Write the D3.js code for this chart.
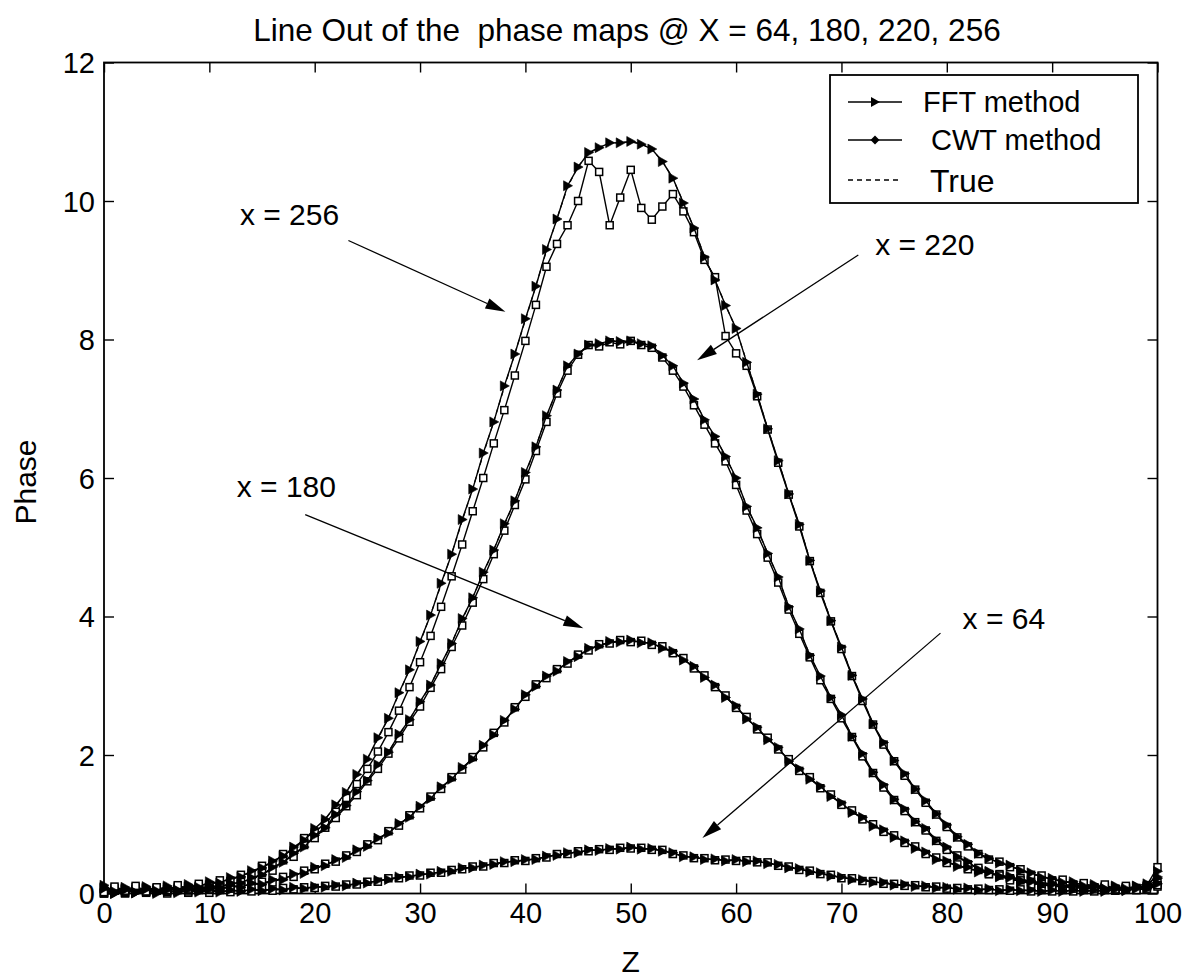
<!DOCTYPE html>
<html><head><meta charset="utf-8">
<script src="https://cdn.jsdelivr.net/npm/d3@7"></script>
<style>
body{margin:0;background:#fff}
svg{display:block}
text{font-family:"Liberation Sans",Arial,Helvetica,sans-serif;fill:#000;white-space:pre}
</style>
</head><body>
<svg id="chart" width="1202" height="979"></svg>
<script>
// ---------- data ----------
const zSamples = [0,1,2,3,4,5,6,7,8,9,10,11,12,13,14,15,16,17,18,19,20,21,22,23,24,25,26,27,28,29,30,31,32,33,34,35,36,37,38,39,40,41,42,43,44,45,46,47,48,49,50,51,52,53,54,55,56,57,58,59,60,61,62,63,64,65,66,67,68,69,70,71,72,73,74,75,76,77,78,79,80,81,82,83,84,85,86,87,88,89,90,91,92,93,94,95,96,97,98,99,100];
const xTicks = [0,10,20,30,40,50,60,70,80,90,100];
const yTicks = [0,2,4,6,8,10,12];
const seriesNames = ["FFT method", " CWT method", "True"];

const true256 = [0.05,0.05,0.05,0.06,0.06,0.07,0.08,0.09,0.10,0.12,
 0.14,0.17,0.21,0.25,0.31,0.38,0.45,0.55,0.65,0.78,
 0.92,1.08,1.26,1.47,1.70,1.95,2.23,2.54,2.88,3.24,
 3.62,4.03,4.46,4.91,5.38,5.85,6.34,6.82,7.31,7.80,
 8.28,8.78,9.28,9.75,10.20,10.50,10.68,10.78,10.83,10.85,
 10.85,10.83,10.74,10.58,10.32,9.98,9.60,9.20,8.85,8.50,
 8.15,7.68,7.20,6.72,6.24,5.78,5.32,4.82,4.36,3.95,
 3.55,3.16,2.80,2.46,2.17,1.93,1.72,1.52,1.33,1.16,
 0.98,0.83,0.70,0.59,0.50,0.45,0.40,0.34,0.29,0.25,
 0.21,0.18,0.15,0.13,0.11,0.10,0.09,0.08,0.08,0.09,
 0.10];
const fft256 = [0.12,0.03,0.09,0.01,0.10,0.04,0.11,0.05,0.13,0.09,
 0.17,0.15,0.23,0.24,0.33,0.37,0.47,0.54,0.67,0.77,
 0.94,1.07,1.28,1.46,1.72,1.94,2.25,2.53,2.90,3.23,
 3.64,4.02,4.48,4.90,5.40,5.84,6.36,6.81,7.33,7.79,
 8.30,8.77,9.30,9.74,10.22,10.49,10.70,10.77,10.84,10.84,
 10.86,10.82,10.75,10.57,10.33,9.97,9.61,9.19,8.86,8.49,
 8.16,7.67,7.21,6.71,6.25,5.77,5.33,4.81,4.37,3.94,
 3.56,3.15,2.81,2.45,2.18,1.92,1.73,1.51,1.34,1.15,
 0.99,0.82,0.71,0.58,0.51,0.44,0.41,0.33,0.30,0.23,
 0.22,0.16,0.17,0.11,0.13,0.07,0.11,0.05,0.10,0.07,
 0.32];
const cwt256 = [0.02,0.10,0.04,0.11,0.03,0.09,0.05,0.12,0.07,0.14,
 0.11,0.19,0.18,0.27,0.29,0.40,0.43,0.57,0.62,0.80,
 0.88,1.02,1.18,1.38,1.58,1.80,2.05,2.33,2.64,2.98,
 3.34,3.72,4.14,4.58,5.04,5.52,6.00,6.50,6.98,7.48,
 7.98,8.50,9.05,9.38,9.65,10.00,10.58,10.42,9.65,10.05,
 10.45,9.90,9.73,9.92,10.10,9.85,9.55,9.15,8.90,8.05,
 7.80,7.62,7.18,6.70,6.22,5.76,5.30,4.80,4.34,3.93,
 3.53,3.14,2.78,2.44,2.15,1.91,1.70,1.50,1.31,1.14,
 0.96,0.81,0.68,0.57,0.49,0.46,0.38,0.35,0.27,0.26,
 0.19,0.20,0.13,0.15,0.09,0.13,0.06,0.11,0.05,0.12,
 0.38];

const true220 = [0.03,0.03,0.03,0.04,0.04,0.05,0.05,0.06,0.07,0.08,
 0.09,0.10,0.13,0.16,0.21,0.28,0.36,0.46,0.56,0.68,
 0.82,0.96,1.12,1.28,1.45,1.64,1.84,2.05,2.28,2.52,
 2.75,3.02,3.30,3.62,3.95,4.28,4.62,4.97,5.32,5.68,
 6.06,6.46,6.88,7.28,7.60,7.80,7.90,7.95,7.97,7.98,
 7.97,7.95,7.90,7.78,7.60,7.38,7.12,6.85,6.58,6.32,
 5.98,5.60,5.26,4.92,4.55,4.15,3.80,3.45,3.12,2.84,
 2.56,2.28,2.00,1.76,1.55,1.37,1.20,1.05,0.92,0.78,
 0.65,0.54,0.44,0.36,0.30,0.25,0.21,0.18,0.15,0.13,
 0.11,0.10,0.09,0.08,0.08,0.07,0.07,0.07,0.08,0.10,
 0.15];
const fft220 = [0.09,0.01,0.07,0.02,0.08,0.03,0.09,0.04,0.10,0.06,
 0.12,0.09,0.15,0.15,0.23,0.27,0.38,0.45,0.58,0.67,
 0.84,0.95,1.14,1.27,1.47,1.63,1.86,2.04,2.30,2.51,
 2.77,3.01,3.32,3.61,3.97,4.27,4.64,4.96,5.34,5.67,
 6.08,6.45,6.90,7.27,7.62,7.79,7.92,7.94,7.98,7.97,
 7.98,7.94,7.91,7.77,7.62,7.37,7.14,6.84,6.60,6.31,
 6.00,5.59,5.28,4.91,4.57,4.14,3.82,3.44,3.14,2.83,
 2.58,2.27,2.02,1.75,1.57,1.36,1.22,1.04,0.94,0.77,
 0.67,0.53,0.46,0.35,0.32,0.24,0.23,0.17,0.17,0.12,
 0.13,0.09,0.11,0.06,0.10,0.05,0.09,0.05,0.10,0.08,
 0.22];
const cwt220 = [0.01,0.08,0.02,0.09,0.03,0.08,0.04,0.10,0.05,0.11,
 0.07,0.13,0.11,0.19,0.18,0.30,0.33,0.48,0.53,0.70,
 0.80,0.95,1.09,1.26,1.42,1.62,1.80,2.02,2.24,2.48,
 2.70,2.97,3.24,3.56,3.87,4.20,4.54,4.90,5.24,5.61,
 5.98,6.39,6.81,7.22,7.55,7.78,7.92,7.90,7.96,7.93,
 7.98,7.92,7.88,7.74,7.55,7.32,7.05,6.77,6.50,6.24,
 5.90,5.53,5.19,4.85,4.49,4.10,3.75,3.41,3.08,2.81,
 2.53,2.26,1.98,1.74,1.53,1.35,1.19,1.03,0.91,0.76,
 0.63,0.55,0.42,0.37,0.28,0.26,0.19,0.19,0.13,0.14,
 0.09,0.11,0.07,0.09,0.06,0.08,0.05,0.08,0.06,0.11,
 0.12];

const true180 = [0.02,0.02,0.02,0.02,0.03,0.03,0.03,0.04,0.04,0.05,
 0.06,0.07,0.08,0.10,0.12,0.14,0.17,0.21,0.25,0.30,
 0.36,0.41,0.47,0.53,0.61,0.69,0.78,0.88,0.99,1.11,
 1.24,1.38,1.52,1.66,1.80,1.95,2.12,2.30,2.48,2.67,
 2.85,3.00,3.12,3.22,3.33,3.43,3.52,3.58,3.62,3.64,
 3.64,3.63,3.60,3.55,3.48,3.38,3.26,3.13,2.99,2.84,
 2.69,2.53,2.38,2.23,2.09,1.92,1.78,1.66,1.53,1.41,
 1.29,1.18,1.08,0.98,0.90,0.82,0.74,0.66,0.58,0.50,
 0.45,0.40,0.36,0.32,0.29,0.26,0.23,0.20,0.17,0.15,
 0.13,0.12,0.11,0.10,0.09,0.08,0.08,0.08,0.09,0.12,
 0.20];
const fft180 = [0.08,0.00,0.06,0.01,0.07,0.02,0.08,0.03,0.09,0.04,
 0.10,0.06,0.12,0.09,0.15,0.13,0.20,0.20,0.28,0.29,
 0.38,0.40,0.49,0.52,0.63,0.68,0.80,0.87,1.01,1.10,
 1.26,1.37,1.54,1.65,1.82,1.94,2.14,2.29,2.50,2.66,
 2.87,2.99,3.14,3.21,3.35,3.42,3.54,3.57,3.64,3.63,
 3.66,3.62,3.62,3.54,3.50,3.37,3.28,3.12,3.01,2.83,
 2.71,2.52,2.40,2.22,2.11,1.91,1.80,1.65,1.55,1.40,
 1.31,1.17,1.10,0.97,0.92,0.81,0.76,0.65,0.60,0.49,
 0.47,0.39,0.38,0.31,0.31,0.25,0.25,0.19,0.19,0.14,
 0.15,0.11,0.13,0.09,0.11,0.07,0.10,0.07,0.11,0.14,
 0.24];
const cwt180 = [0.00,0.05,0.01,0.06,0.02,0.07,0.02,0.08,0.03,0.09,
 0.05,0.10,0.07,0.13,0.11,0.17,0.16,0.24,0.24,0.33,
 0.35,0.43,0.46,0.55,0.60,0.71,0.77,0.90,0.98,1.13,
 1.23,1.40,1.51,1.68,1.79,1.97,2.11,2.32,2.47,2.69,
 2.84,3.02,3.11,3.24,3.32,3.45,3.51,3.60,3.61,3.66,
 3.63,3.65,3.59,3.57,3.47,3.40,3.25,3.15,2.98,2.86,
 2.68,2.55,2.37,2.25,2.08,1.94,1.77,1.68,1.52,1.43,
 1.28,1.20,1.07,1.00,0.89,0.84,0.73,0.68,0.57,0.52,
 0.44,0.42,0.35,0.34,0.28,0.28,0.22,0.22,0.16,0.17,
 0.12,0.14,0.10,0.12,0.08,0.10,0.07,0.09,0.08,0.10,
 0.16];

const true64 = [0.02,0.02,0.02,0.02,0.02,0.02,0.02,0.02,0.02,0.03,
 0.03,0.03,0.03,0.04,0.04,0.05,0.05,0.06,0.07,0.08,
 0.09,0.10,0.11,0.12,0.14,0.16,0.18,0.21,0.23,0.25,
 0.27,0.29,0.31,0.33,0.36,0.38,0.40,0.43,0.45,0.47,
 0.48,0.50,0.53,0.56,0.58,0.60,0.62,0.63,0.64,0.65,
 0.66,0.65,0.64,0.62,0.58,0.54,0.52,0.50,0.49,0.48,
 0.48,0.47,0.46,0.44,0.41,0.38,0.35,0.32,0.29,0.26,
 0.23,0.21,0.19,0.17,0.15,0.13,0.12,0.11,0.10,0.09,
 0.08,0.07,0.07,0.06,0.06,0.05,0.05,0.05,0.04,0.04,
 0.04,0.04,0.04,0.04,0.04,0.04,0.05,0.05,0.06,0.08,
 0.12];
const fft64 = [0.07,0.00,0.05,0.01,0.06,0.00,0.05,0.01,0.06,0.02,
 0.06,0.02,0.05,0.03,0.06,0.04,0.07,0.05,0.09,0.07,
 0.10,0.09,0.12,0.11,0.15,0.15,0.19,0.20,0.24,0.24,
 0.28,0.28,0.32,0.32,0.37,0.37,0.41,0.42,0.46,0.46,
 0.49,0.49,0.54,0.55,0.59,0.59,0.63,0.62,0.65,0.64,
 0.67,0.64,0.65,0.61,0.59,0.53,0.53,0.49,0.50,0.47,
 0.49,0.46,0.47,0.43,0.42,0.37,0.36,0.31,0.30,0.25,
 0.24,0.20,0.20,0.16,0.16,0.12,0.13,0.10,0.11,0.08,
 0.09,0.06,0.08,0.05,0.07,0.04,0.06,0.04,0.05,0.03,
 0.05,0.03,0.05,0.03,0.05,0.03,0.06,0.04,0.07,0.09,
 0.14];
const cwt64 = [0.00,0.04,0.00,0.05,0.01,0.04,0.00,0.05,0.01,0.05,
 0.01,0.05,0.02,0.06,0.03,0.07,0.04,0.08,0.06,0.09,
 0.08,0.11,0.10,0.13,0.13,0.17,0.17,0.22,0.22,0.26,
 0.26,0.30,0.30,0.34,0.35,0.39,0.39,0.44,0.44,0.48,
 0.47,0.51,0.52,0.57,0.57,0.61,0.61,0.64,0.63,0.66,
 0.65,0.66,0.63,0.63,0.57,0.55,0.51,0.51,0.48,0.49,
 0.47,0.48,0.45,0.45,0.40,0.39,0.34,0.33,0.28,0.27,
 0.22,0.22,0.18,0.18,0.14,0.14,0.11,0.12,0.09,0.10,
 0.07,0.08,0.06,0.07,0.05,0.06,0.04,0.06,0.03,0.05,
 0.03,0.05,0.03,0.05,0.03,0.05,0.04,0.06,0.05,0.07,
 0.10];

const trueSeries = [true64, true180, true220, true256];
const fftSeries  = [fft64, fft180, fft220, fft256];
const cwtSeries  = [cwt64, cwt180, cwt220, cwt256];

// annotation labels (data coordinates: text anchor, arrow tail, arrow head)
const annotLabels = ["x = 256", "x = 220", "x = 180", "x = 64"];
const annotText  = [[12.9, 9.65], [73.2, 9.22], [12.6, 5.73], [81.5, 3.82]];
const annotTail  = [[23.2, 9.43], [71.6, 9.22], [19.1, 5.47], [79.4, 3.76]];
const annotHead  = [[38.1, 8.40], [56.3, 7.70], [45.5, 3.83], [56.8, 0.80]];

// ---------- drawing ----------
const svg = d3.select("#chart");
const pL = 104, pR = 1157.5, pT = 62.5, pB = 893.5;
const xS = d3.scaleLinear().domain([0, 100]).range([pL, pR]);
const yS = d3.scaleLinear().domain([0, 12]).range([pB, pT]);
const FONT = 29;

svg.append("rect").attr("width", 1202).attr("height", 979).attr("fill", "#fff");

// axes
const axB = svg.append("g").attr("transform", `translate(0,${pB})`)
  .call(d3.axisBottom(xS).tickValues(xTicks).tickSizeInner(-10).tickSizeOuter(0).tickPadding(9));
const axT = svg.append("g").attr("transform", `translate(0,${pT})`)
  .call(d3.axisTop(xS).tickValues(xTicks).tickSizeInner(-10).tickSizeOuter(0).tickFormat(""));
const axL = svg.append("g").attr("transform", `translate(${pL},0)`)
  .call(d3.axisLeft(yS).tickValues(yTicks).tickSizeInner(-10).tickSizeOuter(0).tickPadding(9));
const axR = svg.append("g").attr("transform", `translate(${pR},0)`)
  .call(d3.axisRight(yS).tickValues(yTicks).tickSizeInner(-10).tickSizeOuter(0).tickFormat(""));
[axB, axT, axL, axR].forEach(g => {
  g.select(".domain").remove();
  g.selectAll(".tick line").attr("stroke", "#000").attr("stroke-width", 1.4);
  g.selectAll(".tick text").attr("font-size", FONT).attr("font-family", null).attr("fill", "#000");
});
axL.selectAll(".tick text").attr("dy", "0.36em");

svg.append("rect").attr("x", pL).attr("y", pT)
  .attr("width", pR - pL).attr("height", pB - pT)
  .attr("fill", "none").attr("stroke", "#000").attr("stroke-width", 1.8);

// lines
const line = d3.line().x((d, i) => xS(zSamples[i])).y(d => yS(d));
const gData = svg.append("g");

trueSeries.forEach(s => {
  gData.append("path").attr("d", line(s)).attr("fill", "none")
    .attr("stroke", "#000").attr("stroke-width", 1.2).attr("stroke-dasharray", "5,4");
});
cwtSeries.forEach(s => {
  gData.append("path").attr("d", line(s)).attr("fill", "none")
    .attr("stroke", "#000").attr("stroke-width", 1.4);
  gData.append("g").selectAll("rect").data(s).join("rect")
    .attr("x", (d, i) => xS(zSamples[i]) - 3.5).attr("y", d => yS(d) - 3.5)
    .attr("width", 7).attr("height", 7)
    .attr("fill", "#fff").attr("stroke", "#000").attr("stroke-width", 1.5);
});
const tri = "M-4,-5L5,0L-4,5Z";
fftSeries.forEach(s => {
  gData.append("path").attr("d", line(s)).attr("fill", "none")
    .attr("stroke", "#000").attr("stroke-width", 1.4);
  gData.append("g").selectAll("path").data(s).join("path")
    .attr("d", tri)
    .attr("transform", (d, i) => `translate(${xS(zSamples[i])},${yS(d)})`)
    .attr("fill", "#000").attr("stroke", "#000").attr("stroke-width", 0.6);
});

// annotations
annotLabels.forEach((lab, k) => {
  svg.append("text").attr("x", xS(annotText[k][0])).attr("y", yS(annotText[k][1]))
    .attr("font-size", 30).text(lab);
  const x1 = xS(annotTail[k][0]), y1 = yS(annotTail[k][1]);
  const x2 = xS(annotHead[k][0]), y2 = yS(annotHead[k][1]);
  const ang = Math.atan2(y2 - y1, x2 - x1);
  const L = 20, W = 5.5;
  const bx = x2 - L * Math.cos(ang), by = y2 - L * Math.sin(ang);
  svg.append("line").attr("x1", x1).attr("y1", y1).attr("x2", bx).attr("y2", by)
    .attr("stroke", "#000").attr("stroke-width", 1.3);
  const px = -Math.sin(ang), py = Math.cos(ang);
  svg.append("path")
    .attr("d", `M${x2},${y2}L${bx + W * px},${by + W * py}L${bx - W * px},${by - W * py}Z`)
    .attr("fill", "#000");
});

// legend
const lg = svg.append("g");
lg.append("rect").attr("x", 830).attr("y", 75).attr("width", 308).attr("height", 128)
  .attr("fill", "#fff").attr("stroke", "#000").attr("stroke-width", 1.8);
const legY = [102, 140, 180];
const legTX = [923, 923, 930];
seriesNames.forEach((name, i) => {
  const ly = legY[i];
  lg.append("line").attr("x1", 848).attr("x2", 902).attr("y1", ly).attr("y2", ly)
    .attr("stroke", "#000").attr("stroke-width", 1.4)
    .attr("stroke-dasharray", i === 2 ? "5,4" : null);
  if (i === 0) lg.append("path").attr("d", tri).attr("transform", `translate(875,${ly})`).attr("fill", "#000");
  if (i === 1) lg.append("path").attr("d", "M0,-4.5L4.5,0L0,4.5L-4.5,0Z").attr("transform", `translate(875,${ly})`).attr("fill", "#000");
  lg.append("text").attr("x", legTX[i]).attr("y", ly).attr("dy", "0.36em")
    .attr("font-size", i === 2 ? 32 : 29).text(name);
});

// titles
svg.append("text").attr("x", 627).attr("y", 41).attr("text-anchor", "middle")
  .attr("font-size", 31.5).text("Line Out of the  phase maps @ X = 64, 180, 220, 256");
svg.append("text").attr("x", xS(50)).attr("y", 972).attr("text-anchor", "middle")
  .attr("font-size", 30).text("Z");
svg.append("text").attr("transform", "translate(36,482) rotate(-90)")
  .attr("text-anchor", "middle").attr("font-size", 30).text("Phase");
</script>
</body></html>
